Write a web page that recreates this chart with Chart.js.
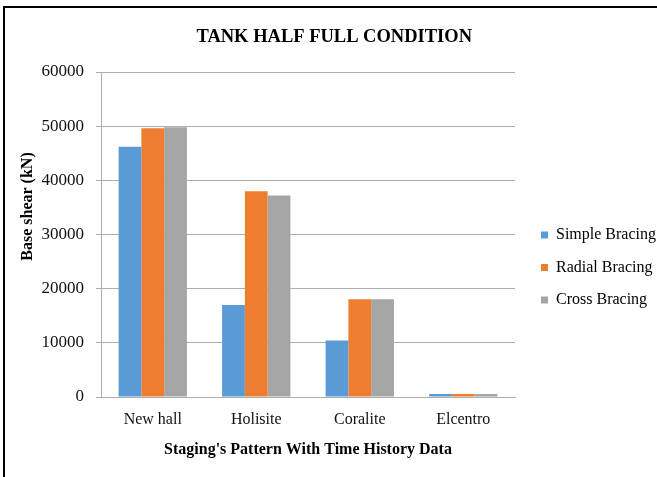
<!DOCTYPE html>
<html>
<head>
<meta charset="utf-8">
<script src="https://cdn.jsdelivr.net/npm/chart.js@4"></script>
<style>
  html, body { margin: 0; padding: 0; background: #fff; }
  #frame { position: absolute; left: 3px; top: 6px; right: 0; bottom: 0;
           border-top: 2px solid #000; border-left: 2px solid #000; }
  #chart { position: absolute; left: 0; top: 0; }
</style>
</head>
<body>
<div id="frame"></div>
<canvas id="chart" width="657" height="477"></canvas>
<script>
const labels = ['New hall', 'Holisite', 'Coralite', 'Elcentro']
const simpleBracing = [46200, 17000, 10450, 550]
const radialBracing = [49600, 38000, 18050, 550]
const crossBracing = [49800, 37200, 18050, 550]
const yTicks = [0, 10000, 20000, 30000, 40000, 50000, 60000]

const serif = 'Liberation Serif'
const gridGray = '#adadad'

// nudge the legend a bit away from the plot and down, like the excel one
const legendNudge = {
    id: 'legendNudge',
    afterLayout(chart) {
        const lg = chart.legend
        lg.left += 9.5
        lg.right += 9.5
        lg.top += 29
        lg.bottom += 29
    }
}

const canvasChart = document.getElementById('chart')

const myChart = new Chart(canvasChart, {
    type: 'bar',
    data: {
        labels: labels,
        datasets: [
            { label: 'Simple Bracing', data: simpleBracing, backgroundColor: '#5b9bd5' },
            { label: 'Radial Bracing', data: radialBracing, backgroundColor: '#ed7d31' },
            { label: 'Cross Bracing', data: crossBracing, backgroundColor: '#a5a5a5' }
        ]
    },
    plugins: [legendNudge],
    options: {
        responsive: false,
        animation: false,
        datasets: {
            bar: { categoryPercentage: 0.66, barPercentage: 1 }
        },
        layout: { padding: { left: 12, top: 0, right: 0.5, bottom: 0 } },
        plugins: {
            title: {
                display: true,
                text: 'TANK HALF FULL CONDITION',
                color: '#000',
                font: { family: serif, size: 18.5, weight: 'bold' },
                padding: { top: 26.5, bottom: 23.3 }
            },
            legend: {
                position: 'right',
                labels: {
                    boxWidth: 7,
                    boxHeight: 7,
                    padding: 16.5,
                    color: '#000',
                    font: { family: serif, size: 16 }
                }
            },
            tooltip: { enabled: false }
        },
        scales: {
            x: {
                grid: { display: false, drawTicks: false },
                border: { display: true, color: gridGray },
                ticks: { color: '#111', padding: 13, font: { family: serif, size: 16 } },
                title: {
                    display: true,
                    text: "Staging's Pattern With Time History Data",
                    color: '#000',
                    font: { family: serif, size: 16, weight: 'bold' },
                    padding: { top: 0, bottom: 18 }
                },
                afterFit: s => { s.height = 80 }
            },
            y: {
                min: 0,
                max: 60000,
                afterBuildTicks: s => { s.ticks = yTicks.map(v => ({ value: v })) },
                grid: { color: gridGray, tickLength: 5, drawTicks: true },
                border: { display: true, color: gridGray },
                ticks: {
                    color: '#111',
                    padding: 12,
                    font: { family: serif, size: 17 },
                    callback: v => String(v)
                },
                title: {
                    display: true,
                    // leading blanks push the title up a little, excel didnt centre it
                    text: ' '.repeat(14) + 'Base shear (kN)',
                    color: '#000',
                    font: { family: serif, size: 16, weight: 'bold' },
                    padding: { top: 6.4, bottom: 0 }
                },
                afterFit: s => { s.width = 89 }
            }
        }
    }
})
</script>
</body>
</html>
